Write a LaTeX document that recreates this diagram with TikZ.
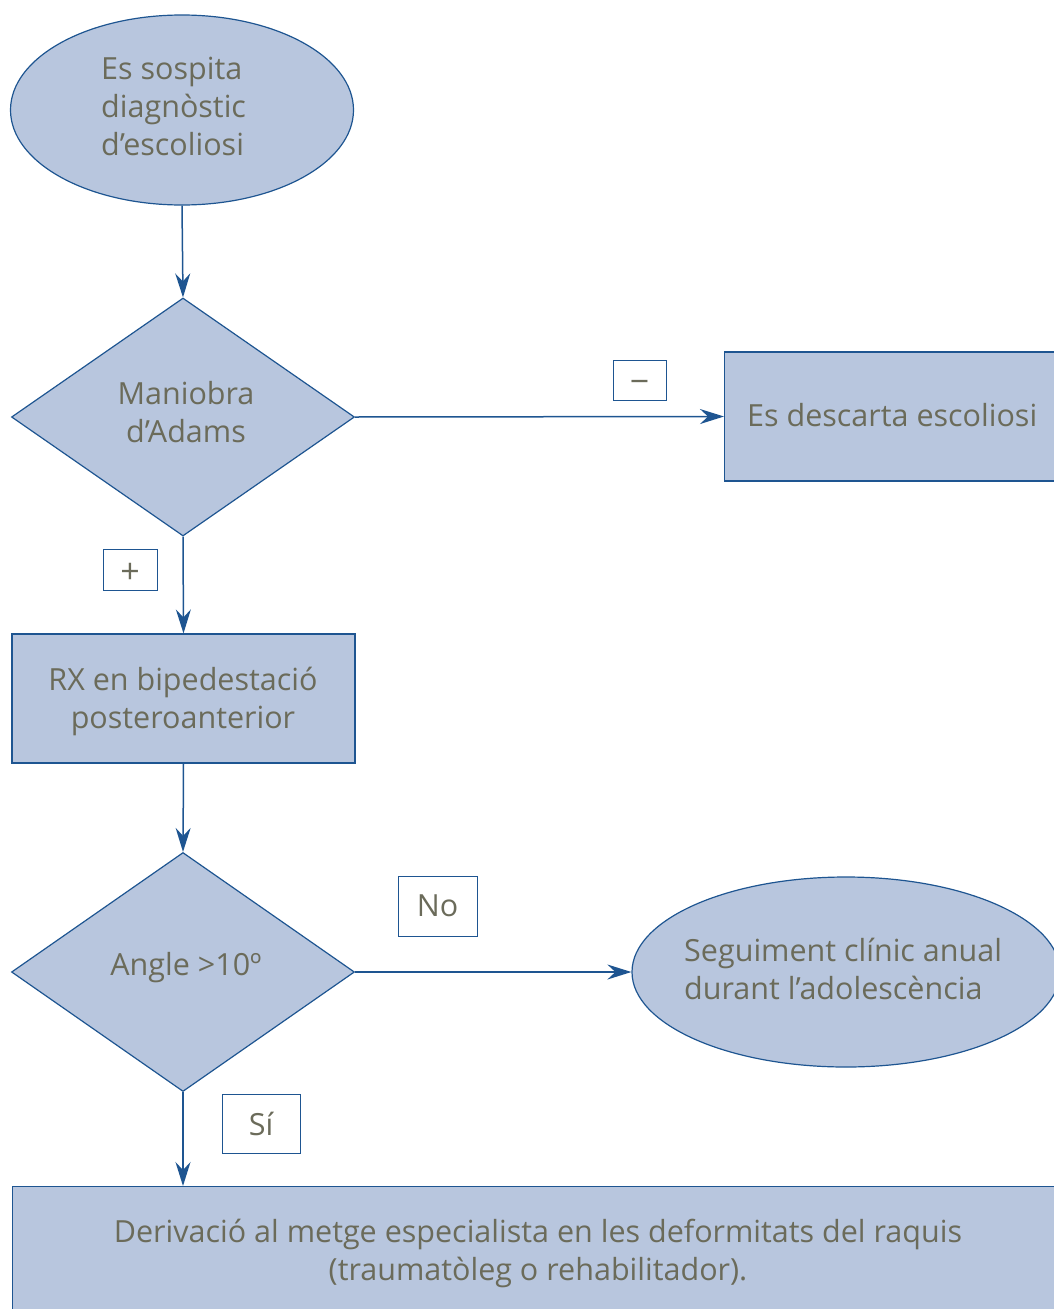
\documentclass[tikz,border=0pt]{standalone}
\usepackage{fontspec}
\setmainfont{Open Sans}
\usetikzlibrary{shapes.geometric,arrows.meta}
\definecolor{fillblue}{HTML}{B8C6DE}
\definecolor{lineblue}{HTML}{1E5591}
\definecolor{txtgray}{HTML}{6B6B5A}
\tikzset{
  base/.style={draw=lineblue, fill=fillblue, line width=1.2pt, text=txtgray, inner sep=0pt,
    font=\fontsize{30.5}{38}\selectfont},
  oval/.style={base, ellipse},
  decision/.style={base, diamond},
  procbox/.style={base, rectangle},
  txt/.style={text=txtgray, font=\fontsize{30.5}{38}\selectfont, inner sep=0pt},
  lbl/.style={draw=lineblue, fill=white, line width=1pt, text=txtgray, inner sep=0pt,
    font=\fontsize{30.5}{38}\selectfont},
  signlbl/.style={lbl, font=\fontsize{34}{38}\selectfont, text height=27pt, text depth=0pt},
  conn/.style={draw=lineblue, line width=1.5pt, -{Stealth[length=24pt,width=15pt,inset=8pt]}}
}
\begin{document}
\begin{tikzpicture}[x=1pt,y=-1pt]
\useasboundingbox (0,0) rectangle (1054,1309);
\clip (0,0) rectangle (1054,1309);
\node[oval, minimum width=343pt, minimum height=190pt] (start) at (182,110) {};
\node[txt, align=left, anchor=west] (starttxt) at (101,106) {Es sospita\\diagnòstic\\d’escoliosi};
\node[decision, minimum width=343pt, minimum height=238pt] (adams) at (183,417) {};
\node[txt, align=center] (adamstxt) at (186,412) {Maniobra\\d’Adams};
\node[procbox, minimum width=330pt, minimum height=129pt, anchor=west] (desc) at (724,416.5) {};
\node[txt, anchor=west] (desctxt) at (747,415) {Es descarta escoliosi};
\node[procbox, minimum width=343pt, minimum height=129pt] (rx) at (183.5,698.5) {};
\node[txt, align=center] (rxtxt) at (183,701) {RX en bipedestació\\posteroanterior};
\node[decision, minimum width=343pt, minimum height=239pt] (angle) at (183,972) {};
\node[txt] (angletxt) at (186,968) {Angle >10º};
\node[oval, minimum width=428pt, minimum height=190pt] (seg) at (846,972) {};
\node[txt, align=left, anchor=west] (segtxt) at (684,969) {Seguiment clínic anual\\durant l’adolescència};
\node[procbox, minimum width=1060pt, minimum height=129pt, anchor=north west] (deriv) at (12,1186) {};
\node[txt, align=center] (derivtxt) at (538,1253) {Derivació al metge especialista en les deformitats del raquis\\(traumatòleg o rehabilitador).};
\node[signlbl, minimum width=53pt, minimum height=40pt] (minus) at (639.5,380) {−};
\node[signlbl, minimum width=54pt, minimum height=41pt] (plus) at (130,569.5) {+};
\node[lbl, minimum width=79pt, minimum height=60pt] (no) at (437.5,906) {No};
\node[lbl, minimum width=78pt, minimum height=59pt] (si) at (261,1123.5) {Sí};
\draw[conn] (start.south) -- (adams.north);
\draw[conn] (adams.east) -- (desc.west);
\draw[conn] (adams.south) -- (rx.north);
\draw[conn] (rx.south) -- (angle.north);
\draw[conn] (angle.east) -- (seg.west);
\draw[conn] (angle.south) -- (angle.south |- deriv.north);
\end{tikzpicture}
\end{document}
